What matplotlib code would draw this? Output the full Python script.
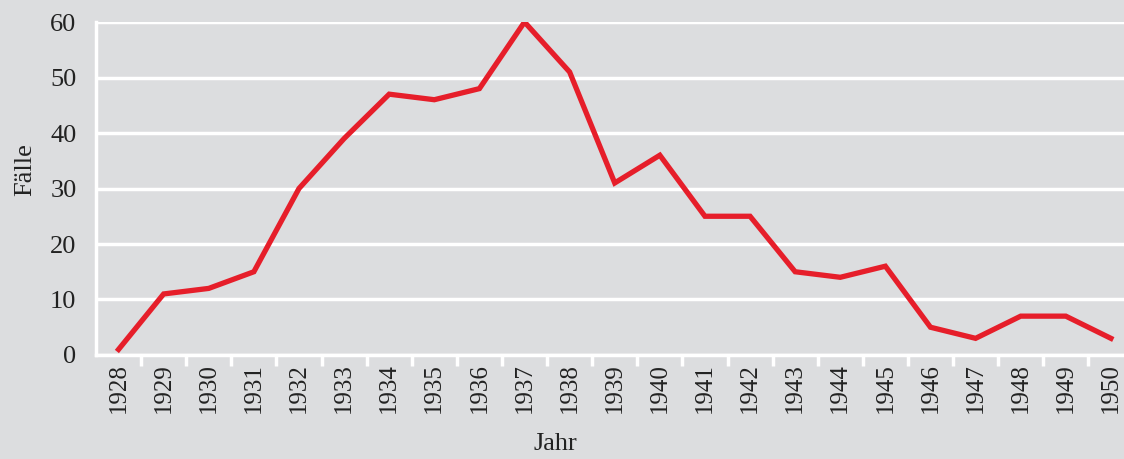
import matplotlib.pyplot as plt

# Jahr / Fälle
years = list(range(1928, 1951))
cases = [1, 11, 12, 15, 30, 39, 47, 46, 48, 60, 51, 31, 36, 25, 25, 15, 14, 16, 5, 3, 7, 7, 3]
yticks = [0, 10, 20, 30, 40, 50, 60]

bg = '#dcdddf'
txt = '#222222'
plt.rcParams['font.family'] = ['Liberation Serif', 'DejaVu Serif']

fig = plt.figure(figsize=(11.24, 4.59), dpi=100, facecolor=bg)
ax = fig.add_axes([0.0854, 0.2266, 0.9146, 0.7254])
ax.set_facecolor(bg)

ax.plot(years, cases, color='#e61e2a', linewidth=3.8, solid_joinstyle='miter', zorder=3)

ax.set_ylim(0, 60)
ax.set_xlim(years[0] - 0.5, years[-1] + 0.29)
ax.set_yticks(yticks)
ax.set_yticklabels([str(v) for v in yticks], fontsize=19, color=txt)
ax.grid(axis='y', color='white', linewidth=2.5, zorder=1)
ax.tick_params(axis='y', length=0, pad=14)

# year labels at integer positions, white ticks in between
ax.set_xticks(years)
ax.set_xticklabels([str(y) for y in years], rotation=90, fontsize=18, color=txt)
ax.tick_params(axis='x', which='major', length=0, pad=6)
ax.set_xticks([y + 0.5 for y in years[:-1]], minor=True)
ax.tick_params(axis='x', which='minor', length=8, width=2.5, color='white', direction='out')

for s in ['top', 'right']:
    ax.spines[s].set_visible(False)
for s in ['left', 'bottom']:
    ax.spines[s].set_color('white')
    ax.spines[s].set_linewidth(2.5)

ax.set_xlabel('Jahr', fontsize=19, color=txt, va='center')
ax.xaxis.set_label_coords(555 / 1124, 1 - 444 / 459, transform=fig.transFigure)
ax.set_ylabel('Fälle', fontsize=19, color=txt, va='center')
ax.yaxis.set_label_coords(25 / 1124, 1 - 170 / 459, transform=fig.transFigure)

fig.savefig('out.png', dpi=100, facecolor=bg)
